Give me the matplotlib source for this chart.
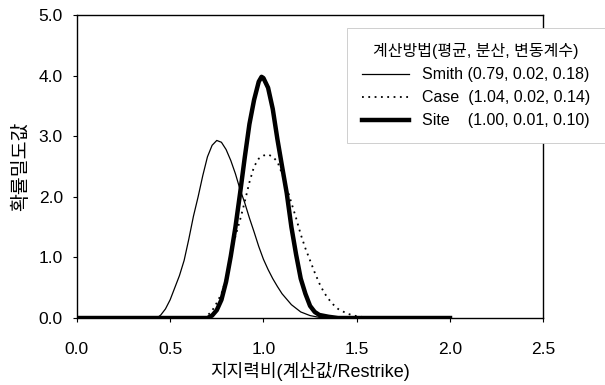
import matplotlib
matplotlib.use("Agg")
import matplotlib.pyplot as plt

plt.rcParams['font.family'] = ['Liberation Sans', 'Noto Sans CJK KR', 'DejaVu Sans']

# values
smith_x = [0.0, 0.43, 0.45, 0.475, 0.50, 0.525, 0.55, 0.575, 0.60, 0.625, 0.65, 0.675,
           0.70, 0.725, 0.75, 0.775, 0.80, 0.825, 0.85, 0.875, 0.90, 0.925, 0.95,
           0.975, 1.00, 1.025, 1.05, 1.075, 1.10, 1.15, 1.20, 1.25, 1.30, 1.35, 2.0]
smith_y = [0.0, 0.0, 0.05, 0.15, 0.3, 0.5, 0.7, 0.95, 1.3, 1.68, 2.0, 2.35,
           2.66, 2.85, 2.93, 2.9, 2.78, 2.6, 2.38, 2.12, 1.9, 1.65, 1.42,
           1.18, 0.97, 0.8, 0.65, 0.52, 0.4, 0.22, 0.1, 0.04, 0.01, 0.0, 0.0]

case_x = [0.0, 0.675, 0.70, 0.725, 0.75, 0.775, 0.80, 0.825, 0.85, 0.875, 0.90, 0.925,
          0.95, 0.975, 1.00, 1.025, 1.05, 1.075, 1.10, 1.125, 1.15, 1.175, 1.20,
          1.225, 1.25, 1.275, 1.30, 1.325, 1.35, 1.375, 1.40, 1.45, 1.50, 1.55, 1.60, 2.0]
case_y = [0.0, 0.0, 0.04, 0.12, 0.25, 0.4, 0.65, 1.0, 1.35, 1.62, 1.92, 2.24,
          2.5, 2.63, 2.68, 2.7, 2.66, 2.58, 2.38, 2.15, 1.9, 1.65, 1.38,
          1.15, 0.95, 0.75, 0.57, 0.42, 0.31, 0.22, 0.15, 0.07, 0.03, 0.01, 0.0, 0.0]

site_x = [0.0, 0.70, 0.725, 0.75, 0.775, 0.80, 0.825, 0.85, 0.875, 0.90, 0.925, 0.95,
          0.975, 0.99, 1.00, 1.025, 1.05, 1.075, 1.10, 1.125, 1.15, 1.175, 1.20,
          1.225, 1.25, 1.275, 1.30, 1.35, 1.40, 2.0]
site_y = [0.0, 0.0, 0.04, 0.13, 0.3, 0.6, 1.02, 1.5, 2.06, 2.65, 3.2, 3.6,
          3.9, 3.98, 3.96, 3.8, 3.45, 2.95, 2.5, 2.06, 1.5, 1.05, 0.65,
          0.4, 0.2, 0.1, 0.05, 0.02, 0.0, 0.0]

labels = ['Smith (0.79, 0.02, 0.18)',
          'Case  (1.04, 0.02, 0.14)',
          'Site    (1.00, 0.01, 0.10)']

fig = plt.figure(figsize=(6.05, 3.85), dpi=100)
ax = fig.add_axes([0.127, 0.174, 0.771, 0.787])

ax.plot(smith_x, smith_y, color='black', lw=0.9, label=labels[0])
ax.plot(case_x, case_y, color='black', lw=1.3, linestyle=(0, (1, 2.5)), label=labels[1])
ax.plot(site_x, site_y, color='black', lw=3.2, solid_joinstyle='round', label=labels[2])

ax.set_xlim(0, 2.5)
ax.set_ylim(0, 5)
ax.set_xticks([0.0, 0.5, 1.0, 1.5, 2.0, 2.5])
ax.set_yticks([0.0, 1.0, 2.0, 3.0, 4.0, 5.0])
ax.xaxis.set_major_formatter(matplotlib.ticker.FormatStrFormatter('%.1f'))
ax.yaxis.set_major_formatter(matplotlib.ticker.FormatStrFormatter('%.1f'))
ax.tick_params(axis='x', length=3, pad=14, labelsize=12.5)
ax.tick_params(axis='y', length=3, pad=7, labelsize=12.5)
for s in ax.spines.values():
    s.set_linewidth(1.0)

ax.set_xlabel('지지력비(계산값/Restrike)', fontsize=13, labelpad=4)
ax.set_ylabel('확률밀도값', fontsize=14, labelpad=6)

leg = ax.legend(loc='upper right', bbox_to_anchor=(1.0, 0.927),
                bbox_transform=fig.transFigure, fontsize=11.5,
                title='계산방법(평균, 분산, 변동계수)', title_fontsize=11.5,
                frameon=True, fancybox=False, edgecolor='#c8c8c8',
                handlelength=2.95, handletextpad=0.8, labelspacing=0.5,
                borderpad=0.95, borderaxespad=0.0)
leg.get_frame().set_linewidth(0.6)
leg.get_frame().set_alpha(1)

fig.savefig('out.png', dpi=100)
